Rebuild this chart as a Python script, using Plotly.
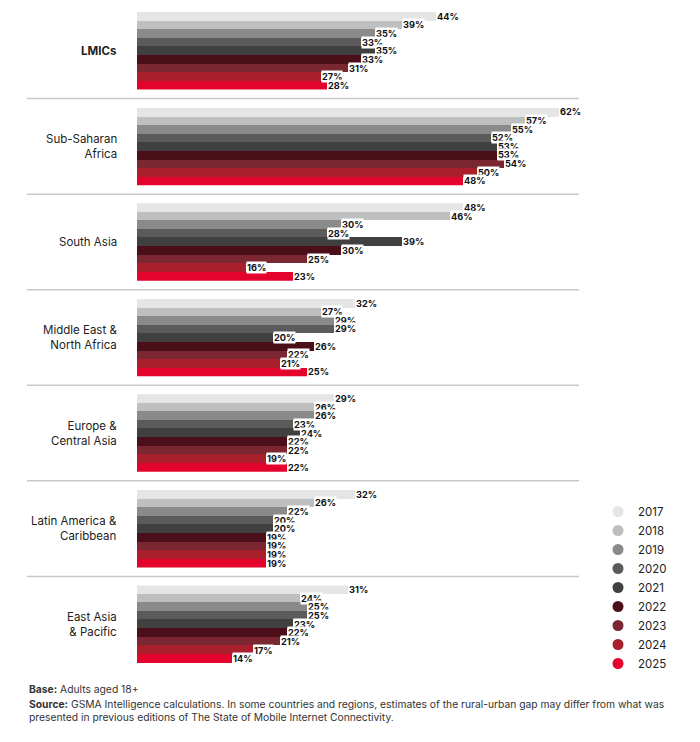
import plotly.graph_objects as go
from plotly.subplots import make_subplots

# data (rural-urban gap, %)
years = ["2017", "2018", "2019", "2020", "2021", "2022", "2023", "2024", "2025"]
regions = ["<b>LMICs</b>", "Sub-Saharan<br>Africa", "South Asia", "Middle East &<br>North Africa",
           "Europe &<br>Central Asia", "Latin America &<br>Caribbean", "East Asia<br>& Pacific"]

lmics = [44, 39, 35, 33, 35, 33, 31, 27, 28]
ssa = [62, 57, 55, 52, 53, 53, 54, 50, 48]
south_asia = [48, 46, 30, 28, 39, 30, 25, 16, 23]
mena = [32, 27, 29, 29, 20, 26, 22, 21, 25]
eca = [29, 26, 26, 23, 24, 22, 22, 19, 22]
lac = [32, 26, 22, 20, 20, 19, 19, 19, 19]
eap = [31, 24, 25, 25, 23, 22, 21, 17, 14]

values = [lmics, ssa, south_asia, mena, eca, lac, eap]

colors = ["#e5e5e5", "#bdbfc1", "#8a8a8a", "#5b5b5b", "#404040",
          "#4b0f1a", "#7b2731", "#a91f2c", "#e4032c"]

FONT = "Inter"
n = len(regions)
spacing = 0.0276

fig = make_subplots(rows=n, cols=1, vertical_spacing=spacing)

for i, vals in enumerate(values):
    row = i + 1
    fig.add_trace(go.Bar(
        x=vals, y=years, orientation="h",
        marker=dict(color=colors, line=dict(width=0)),
        showlegend=False, hoverinfo="skip"
    ), row=row, col=1)

    ax = "" if row == 1 else str(row)
    # value labels with white boxes (y given as category index)
    for k, v in enumerate(vals):
        fig.add_annotation(
            x=v, y=k, xref="x" + ax, yref="y" + ax,
            text="<b>%d%%</b>" % v, showarrow=False,
            xanchor="left", yanchor="middle",
            bgcolor="white", borderpad=0,
            font=dict(family=FONT, size=9.2, color="#111111")
        )
    # region label
    fig.add_annotation(
        x=-0.0407, y=0.5, xref="paper", yref="y" + ax + " domain",
        text=regions[i], showarrow=False, xanchor="right", yanchor="middle",
        align="right", font=dict(family=FONT, size=11.5, color="#222222")
    )

# legend entries as circles
for yr, c in zip(years, colors):
    fig.add_trace(go.Scatter(
        x=[None], y=[None], mode="markers", name=yr,
        marker=dict(symbol="circle", size=11, color=c)
    ), row=n, col=1)

fig.update_xaxes(range=[0, 65], visible=False, fixedrange=True)
fig.update_yaxes(type="category", categoryorder="array", categoryarray=years,
                 range=[len(years) - 0.5, -0.5], visible=False)

# separator lines between region groups
row_h = (1 - spacing * (n - 1)) / n
for i in range(1, n):
    ysep = 1 - i * row_h - (i - 0.5) * spacing
    fig.add_shape(type="line", xref="paper", yref="paper",
                  x0=-0.249, x1=1.0, y0=ysep, y1=ysep,
                  line=dict(color="#c8c8c8", width=1.5))

# footnotes
fig.add_annotation(
    x=-0.249, y=-0.0276, xref="paper", yref="paper", xanchor="left", yanchor="top",
    text="<b>Base:</b> Adults aged 18+", showarrow=False, align="left",
    font=dict(family=FONT, size=10.3, color="#333333")
)
fig.add_annotation(
    x=-0.249, y=-0.0507, xref="paper", yref="paper", xanchor="left", yanchor="top",
    text="<b>Source:</b> GSMA Intelligence calculations. In some countries and regions, estimates of the rural-urban gap may differ from what was"
         "<br>presented in previous editions of The State of Mobile Internet Connectivity.",
    showarrow=False, align="left",
    font=dict(family=FONT, size=10.3, color="#333333")
)

fig.update_layout(
    width=692, height=734,
    margin=dict(l=129, r=121, t=4, b=79),
    bargap=0,
    plot_bgcolor="white", paper_bgcolor="white",
    legend=dict(x=1.043, y=0.255, xanchor="left", yanchor="top",
                font=dict(family=FONT, size=11.5, color="#222222"),
                itemwidth=30, tracegroupgap=0),
    font=dict(family=FONT)
)

fig.write_html("out.html")
